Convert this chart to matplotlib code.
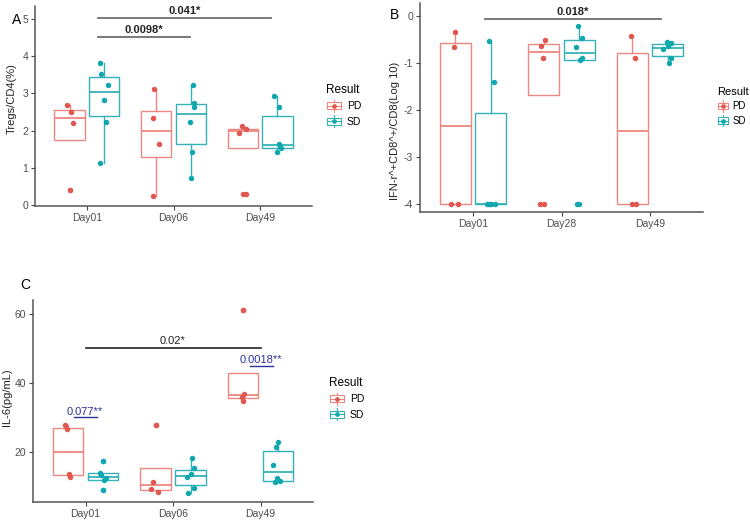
import matplotlib
matplotlib.use("Agg")
import matplotlib.pyplot as plt
from matplotlib.patches import Rectangle
from matplotlib.lines import Line2D
from matplotlib.legend_handler import HandlerBase

plt.rcParams['font.family'] = ['Liberation Sans', 'DejaVu Sans']
plt.rcParams['axes.unicode_minus'] = False

groups = ["PD", "SD"]

# ---------------- Panel A: Tregs/CD4(%) ----------------
a_days = ["Day01", "Day06", "Day49"]
a_pd = [[2.7, 2.5, 2.2, 0.4],
        [3.13, 2.33, 1.63, 0.23],
        [2.12, 1.93, 2.03, 0.3]]
a_sd = [[3.83, 3.52, 3.23, 2.83, 2.24, 1.13],
        [3.23, 2.74, 2.63, 2.24, 1.42, 0.73],
        [2.92, 2.63, 1.63, 1.57, 1.52, 1.42]]
a_sig = ["0.0098*", "0.041*"]

# ---------------- Panel B: IFN-r+CD8+/CD8 (log10) ----------------
b_days = ["Day01", "Day28", "Day49"]
b_pd = [[-0.34, -0.66, -4.0, -4.0],
        [-0.5, -0.63, -0.9, -4.0],
        [-0.43, -0.9, -4.0, -4.0]]
b_sd = [[-0.53, -1.41, -4.0, -4.0, -4.0, -4.0],
        [-0.21, -0.46, -0.65, -0.9, -0.94, -4.0],
        [-0.56, -0.58, -0.64, -0.7, -0.9, -1.0]]
b_sig = ["0.018*"]

# ---------------- Panel C: IL-6 (pg/mL) ----------------
c_days = ["Day01", "Day06", "Day49"]
c_pd = [[27.8, 26.6, 13.5, 12.7],
        [27.7, 11.4, 9.2, 8.4],
        [37.0, 36.0, 34.8, 61.3]]
c_sd = [[17.5, 14.0, 13.2, 12.3, 11.8, 8.8],
        [18.3, 15.3, 13.5, 12.8, 9.4, 8.0],
        [22.9, 21.5, 16.3, 12.3, 11.5, 11.2]]
c_sig = ["0.02*", "0.077**", "0.0018**"]

# ---------------- styling / jitter (presentation only) ----------------
PD_BOX, PD_PT = "#EE8780", "#E2574F"
SD_BOX, SD_PT = "#35B2B7", "#10A8AE"
BLUE = "#2F2FA2"
DODGE = 0.2
BW = 0.35
MS = 2.9

a_jit_pd = [[-2.3, 1, 3.7, 0.7], [-2, -3.3, 2.7, -3.3], [-0.7, -3.7, 3, 3]]
a_jit_sd = [[-4.3, -3.3, 3.3, -0.3, 1.7, -4.3], [2.3, 3, 3, -1, 1.3, -0.3],
            [-3.7, 2, 2, 2.7, 3.7, 0]]
b_jit_pd = [[0, -1, -4, 3], [1.5, -3, -1, -4], [-1.5, 2.5, 3.5, 0]]
b_jit_sd = [[-1.5, 3.2, -4, -1.5, 4, 0], [-1, 3, -3.5, 3, 0.5, -2],
            [-0.5, 3, 0, -4.5, 3.5, 1]]
c_jit_pd = [[-3.3, -1, 0.7, 1.7], [0, -2, -4, 2], [1, -1.2, 0, 0]]
c_jit_sd = [[0, -3.3, -1.5, 3, 1, 0], [1, 3, 0, -3.5, 3, -2],
            [0, -1.7, -4.7, -1, 2.3, -3]]

W, H = 750, 523
fig = plt.figure(figsize=(W / 100, H / 100), dpi=100)


def add_ax(l, r, t, b):
    return fig.add_axes([l / W, 1 - b / H, (r - l) / W, (b - t) / H])


def draw_panel(ax, days, pd_vals, sd_vals, jit_pd, jit_sd, px_unit):
    for i, day in enumerate(days):
        x0 = i + 1
        for vals, jit, off, cbox, cpt in ((pd_vals[i], jit_pd[i], -DODGE, PD_BOX, PD_PT),
                                          (sd_vals[i], jit_sd[i], DODGE, SD_BOX, SD_PT)):
            pos = x0 + off
            ax.boxplot([vals], positions=[pos], widths=BW, whis=1.5,
                       manage_ticks=False, patch_artist=True,
                       boxprops=dict(facecolor="white", edgecolor=cbox, linewidth=1.0),
                       medianprops=dict(color=cbox, linewidth=1.3),
                       whiskerprops=dict(color=cbox, linewidth=1.0),
                       capprops=dict(linewidth=0),
                       flierprops=dict(marker="o", markersize=MS,
                                       markerfacecolor=cpt, markeredgecolor=cpt))
            xs = [pos + j / px_unit for j in jit]
            ax.plot(xs, vals, "o", ms=MS, color=cpt, mec=cpt, zorder=5,
                    linestyle="none")
    ax.set_xticks(range(1, len(days) + 1))
    ax.set_xticklabels(days)
    ax.set_xlim(0.4, 3.6)
    for s in ("top", "right"):
        ax.spines[s].set_visible(False)
    for s in ("left", "bottom"):
        ax.spines[s].set_color("#555555")
        ax.spines[s].set_linewidth(1.1)
    ax.tick_params(axis="both", length=3, width=0.8, color="#444444",
                   labelsize=7.5, labelcolor="#4D4D4D", pad=2)


class BoxKey:
    def __init__(self, cbox, cpt):
        self.cbox, self.cpt = cbox, cpt


class BoxKeyHandler(HandlerBase):
    def create_artists(self, legend, orig_handle, xdescent, ydescent, width,
                       height, fontsize, trans):
        c, p = orig_handle.cbox, orig_handle.cpt
        cx = -xdescent + width / 2
        cy = -ydescent + height / 2
        bw, bh = width * 0.9, height * 0.62
        arts = [
            Line2D([cx, cx], [-ydescent, -ydescent + height], color=c, lw=0.8,
                   transform=trans),
            Rectangle((cx - bw / 2, cy - bh / 2), bw, bh, facecolor="white",
                      edgecolor=c, lw=0.8, transform=trans),
            Line2D([cx - bw / 2, cx + bw / 2], [cy, cy], color=c, lw=0.8,
                   transform=trans),
            Line2D([cx], [cy], marker="o", ms=2.4, color=p, linestyle="none",
                   transform=trans),
        ]
        return arts


def add_legend(ax, x_px, y_px, fs=7.5, tfs=8.5, hl=1.5, tp=0.5):
    handles = [BoxKey(PD_BOX, PD_PT), BoxKey(SD_BOX, SD_PT)]
    leg = ax.legend(handles=handles, labels=groups, title="Result",
                    loc="upper left", bbox_to_anchor=(x_px / W, 1 - y_px / H),
                    bbox_transform=fig.transFigure, frameon=False,
                    handler_map={BoxKey: BoxKeyHandler()},
                    handlelength=hl, handleheight=1.4, handletextpad=tp,
                    labelspacing=0.35, fontsize=fs, title_fontsize=tfs,
                    borderpad=0, borderaxespad=0)
    leg._legend_box.align = "left"
    return leg


# ---- Panel A ----
axA = add_ax(35, 312, 6, 206)
draw_panel(axA, a_days, a_pd, a_sd, a_jit_pd, a_jit_sd, 87.0)
axA.set_ylim(-0.03, 5.35)
axA.set_yticks([0, 1, 2, 3, 4, 5])
axA.set_ylabel("Tregs/CD4(%)", fontsize=8, color="#222222")
axA.yaxis.set_label_coords(-0.065, 0.535)
axA.plot([1.13, 2.19], [4.52, 4.52], color="#6E6E6E", lw=1.3, clip_on=False)
axA.text(1.66, 4.57, a_sig[0], ha="center", va="bottom", fontsize=8,
         fontweight="bold", color="#222222")
axA.plot([1.13, 3.13], [5.03, 5.03], color="#6E6E6E", lw=1.3, clip_on=False)
axA.text(2.13, 5.08, a_sig[1], ha="center", va="bottom", fontsize=8,
         fontweight="bold", color="#222222", clip_on=False)
add_legend(axA, 326, 84)
fig.text(12 / W, 1 - 20 / H, "A", fontsize=10, ha="left", va="center")

# ---- Panel B ----
axB = add_ax(420, 703, 3, 212)
draw_panel(axB, b_days, b_pd, b_sd, b_jit_pd, b_jit_sd, 88.7)
axB.set_ylim(-4.17, 0.28)
axB.set_yticks([0, -1, -2, -3, -4])
axB.set_ylabel("IFN-r^+CD8^+/CD8(Log 10)", fontsize=8, color="#222222")
axB.yaxis.set_label_coords(-0.07, 0.39)
axB.plot([1.13, 3.13], [-0.064, -0.064], color="#6E6E6E", lw=1.3, clip_on=False)
axB.text(2.13, -0.02, b_sig[0], ha="center", va="bottom", fontsize=8,
         fontweight="bold", color="#222222", clip_on=False)
add_legend(axB, 717, 87, fs=7, tfs=8, hl=1.2, tp=0.4)
fig.text(390 / W, 1 - 15 / H, "B", fontsize=10, ha="left", va="center")

# ---- Panel C ----
axC = add_ax(33, 313, 300, 502)
draw_panel(axC, c_days, c_pd, c_sd, c_jit_pd, c_jit_sd, 87.3)
axC.set_ylim(5.45, 64.2)
axC.set_yticks([20, 40, 60])
axC.set_ylabel("IL-6(pg/mL)", fontsize=8, color="#222222")
axC.yaxis.set_label_coords(-0.075, 0.52)
axC.plot([1.0, 3.0], [50.1, 50.1], color="#222222", lw=1.2)
axC.text(2.0, 50.7, c_sig[0], ha="center", va="bottom", fontsize=8, color="#222222")
axC.plot([0.874, 1.126], [30.1, 30.1], color=BLUE, lw=1.0)
axC.text(0.99, 30.3, c_sig[1], ha="center", va="bottom", fontsize=8, color=BLUE)
axC.plot([2.885, 3.138], [45.1, 45.1], color=BLUE, lw=1.0)
axC.text(3.0, 45.3, c_sig[2], ha="center", va="bottom", fontsize=8, color=BLUE)
add_legend(axC, 329, 377)
fig.text(20 / W, 1 - 285 / H, "C", fontsize=10, ha="left", va="center")

fig.savefig("out.png", dpi=100, facecolor="white")
